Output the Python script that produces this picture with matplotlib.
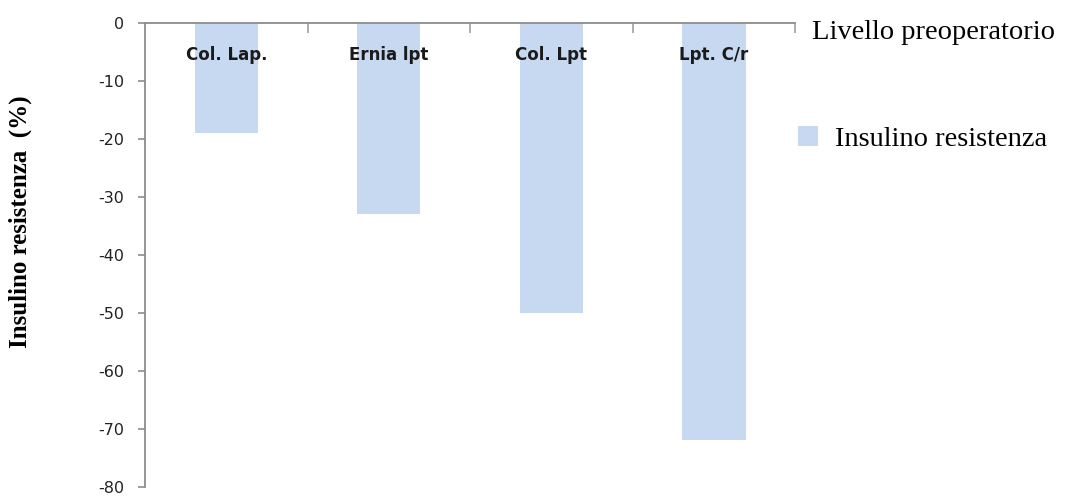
import matplotlib.pyplot as plt

# variazione rispetto al livello preoperatorio
categorie = ['Col. Lap.', 'Ernia lpt', 'Col. Lpt', 'Lpt. C/r']
insulino_resistenza = [-19, -33, -50, -72]
yticks = [0, -10, -20, -30, -40, -50, -60, -70, -80]

fig = plt.figure(figsize=(10.71, 4.97), dpi=100)
ax = fig.add_axes([0.1354, 0.021, 0.607, 0.933])

x = list(range(len(categorie)))
bars = ax.bar(x, insulino_resistenza, width=0.39, color='#c6d9f0',
              label='Insulino resistenza')

ax.set_xlim(-0.5, len(categorie) - 0.5)
ax.set_ylim(-80, 0)
ax.set_yticks(yticks)
ax.set_yticklabels([str(v) for v in yticks], fontsize=11.5, color='#222222',
                   family='DejaVu Sans')

# asse x in alto (valore 0), tacche tra le categorie
ax.xaxis.tick_top()
ax.set_xticks([])
ax.set_xticks([i + 0.5 for i in x], minor=True)
ax.tick_params(axis='x', which='minor', direction='in', length=7,
               color='#a0a0a0', width=1.2)
ax.tick_params(axis='y', direction='out', length=5, color='#8c8c8c', width=1.2,
               pad=10)

for side in ['right', 'bottom']:
    ax.spines[side].set_visible(False)
for side in ['top', 'left']:
    ax.spines[side].set_color('#8c8c8c')
    ax.spines[side].set_linewidth(1.3)

for xi, nome in zip(x, categorie):
    ax.text(xi, -5.6, nome, ha='center', va='center', fontsize=12,
            fontweight='bold', color='#1a1a1a', family='DejaVu Sans')

fig.text(0.019, 0.553, 'Insulino resistenza  (%)', rotation=90, ha='center',
         va='center', fontsize=18, fontweight='bold', family='Liberation Serif')

fig.text(0.758, 0.934, 'Livello preoperatorio', ha='left', va='center',
         fontsize=20.5, family='Liberation Serif')

ax.legend(handles=[bars], loc='center left', bbox_to_anchor=(1.0, 0.75),
          frameon=False, handlelength=0.7, handleheight=0.7,
          handletextpad=0.6, borderaxespad=0.0, borderpad=0.1,
          prop={'family': 'Liberation Serif', 'size': 20.5})

fig.savefig('out.png', dpi=100)
